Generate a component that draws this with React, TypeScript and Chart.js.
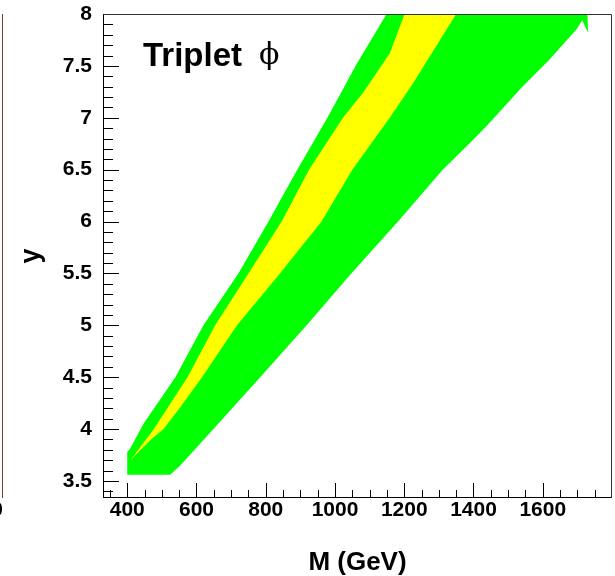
import React, { useEffect, useRef } from "react";
import { Chart, registerables } from "chart.js";

Chart.register(...registerables);

// ---- axis ticks / labels ----
const xMajorTicks = [400, 600, 800, 1000, 1200, 1400, 1600];
const yMajorTicks = [3.5, 4, 4.5, 5, 5.5, 6, 6.5, 7, 7.5, 8];
const yTickLabels = ["3.5", "4", "4.5", "5", "5.5", "6", "6.5", "7", "7.5", "8"];
const xTitle = "M (GeV)";
const yTitle = "y";
const panelLabel = "Triplet";
const panelSymbol = "\u03d5";

// ---- outer (green) allowed region ----
// left / upper boundary, bottom -> top
const greenLeftM = [400, 400, 409, 448, 539, 620, 721, 808, 891, 978, 1063, 1149];
const greenLeftY = [3.56, 3.78, 3.815, 4.056, 4.5, 5.0, 5.5, 6.0, 6.5, 7.0, 7.52, 8.0];
// right / lower boundary, top -> bottom
const greenRightM = [1729, 1731, 1714, 1697, 1619, 1541, 1446, 1397, 1311, 1182, 1047, 918, 784, 649, 553, 524];
const greenRightY = [8.0, 7.82, 7.94, 7.85, 7.56, 7.3, 6.95, 6.78, 6.5, 6.0, 5.5, 5.0, 4.5, 4.0, 3.65, 3.56];

// ---- inner (yellow) region ----
const yellowLeftM = [409, 477, 574, 654, 750, 846, 925, 1023, 1081, 1158, 1201];
const yellowLeftY = [3.7, 4.0, 4.5, 5.0, 5.5, 6.0, 6.5, 7.0, 7.24, 7.62, 8.0];
const yellowRightM = [1350, 1225, 1158, 1050, 961, 841, 717, 616, 553, 505, 467];
const yellowRightY = [8.0, 7.33, 7.0, 6.5, 6.0, 5.5, 5.0, 4.5, 4.21, 4.0, 3.895];

const X_MIN = 330;
const X_MAX = 1800;
const Y_MIN = 3.336;
const Y_MAX = 8;

function polygon(lm: number[], ly: number[], rm: number[], ry: number[]) {
  const pts = lm.map((m, i) => ({ x: m, y: ly[i] }));
  rm.forEach((m, i) => pts.push({ x: m, y: ry[i] }));
  pts.push({ x: lm[0], y: ly[0] });
  return pts;
}

const framePlugin = {
  id: "rootFrame",
  afterDraw(chart: any) {
    const { ctx, chartArea, scales } = chart;
    const { left, right, top, bottom } = chartArea;
    const x = scales.x;
    const y = scales.y;
    ctx.save();
    ctx.lineWidth = 1;
    ctx.strokeStyle = "#000";
    const seg = (x1: number, y1: number, x2: number, y2: number) => {
      ctx.beginPath();
      ctx.moveTo(x1, y1);
      ctx.lineTo(x2, y2);
      ctx.stroke();
    };
    // x ticks (inside, pointing up)
    for (let v = 350; v <= 1750; v += 50) {
      const px = Math.round(x.getPixelForValue(v)) + 0.5;
      const len = v % 200 === 0 ? 15 : 8;
      seg(px, bottom, px, bottom - len);
    }
    // y ticks (inside, pointing right)
    for (let k = 34; k <= 80; k++) {
      const py = Math.round(y.getPixelForValue(k / 10)) + 0.5;
      const len = k % 5 === 0 ? 16 : 10;
      seg(left, py, left + len, py);
    }
    // frame
    const l = Math.round(left) + 0.5;
    const r = Math.round(right) - 0.5;
    const t = Math.round(top) + 0.5;
    const b = Math.round(bottom) - 0.5;
    seg(l, t, l, b + 0.5);
    seg(l - 0.5, b, r + 0.5, b);
    ctx.strokeStyle = "#333";
    seg(l, t, r, t);
    seg(r, t, r, b);

    // panel label
    ctx.fillStyle = "#000";
    ctx.textBaseline = "alphabetic";
    ctx.textAlign = "left";
    ctx.font = "bold 33px 'Liberation Sans', Arial, sans-serif";
    ctx.fillText(panelLabel, left + 40, top + 52);
    ctx.font = "30px 'DejaVu Serif', 'Liberation Serif', serif";
    ctx.fillText(panelSymbol, left + 156, top + 50);

    // remnant of neighbouring panel on the left edge
    ctx.strokeStyle = "#7a3a3a";
    seg(2.5, top, 2.5, bottom);
    ctx.font = "bold 21px 'Liberation Sans', Arial, sans-serif";
    ctx.textAlign = "center";
    ctx.textBaseline = "middle";
    ctx.fillText("0", -3, bottom + 12);
    ctx.restore();
  },
};

export default function App() {
  const canvasRef = useRef<HTMLCanvasElement | null>(null);

  useEffect(() => {
    document.body.style.margin = "0";
    const canvas = canvasRef.current;
    if (!canvas) return;
    const chart = new Chart(canvas, {
      type: "line",
      data: {
        datasets: [
          {
            label: "inner",
            data: polygon(yellowLeftM, yellowLeftY, yellowRightM, yellowRightY),
            backgroundColor: "#ffff00",
            borderWidth: 0,
            borderColor: "rgba(0,0,0,0)",
            pointRadius: 0,
            tension: 0,
            fill: "shape",
          },
          {
            label: "outer",
            data: polygon(greenLeftM, greenLeftY, greenRightM, greenRightY),
            backgroundColor: "#00ff00",
            borderWidth: 0,
            borderColor: "rgba(0,0,0,0)",
            pointRadius: 0,
            tension: 0,
            fill: "shape",
          },
        ],
      },
      options: {
        responsive: false,
        animation: false,
        devicePixelRatio: 1,
        events: [],
        layout: { padding: { top: 14, right: 3, left: 0, bottom: 0 } },
        plugins: {
          legend: { display: false },
          tooltip: { enabled: false },
        },
        scales: {
          x: {
            type: "linear",
            min: X_MIN,
            max: X_MAX,
            afterFit: (s: any) => {
              s.height = 78;
              s.paddingLeft = 0;
              s.paddingRight = 0;
            },
            afterBuildTicks: (s: any) => {
              s.ticks = xMajorTicks.map((v) => ({ value: v }));
            },
            grid: { display: false, drawTicks: false },
            border: { display: false },
            ticks: {
              autoSkip: false,
              maxRotation: 0,
              padding: 2,
              color: "#000",
              font: { family: "'Liberation Sans', Arial, sans-serif", size: 21, weight: "bold", lineHeight: 1 },
              callback: (v: any) => String(v),
            },
            title: {
              display: true,
              text: xTitle,
              color: "#000",
              padding: { top: 0, bottom: 0 },
              font: { family: "'Liberation Sans', Arial, sans-serif", size: 26, weight: "bold", lineHeight: 1 },
            },
          },
          y: {
            type: "linear",
            min: Y_MIN,
            max: Y_MAX,
            afterFit: (s: any) => {
              s.width = 103;
              s.paddingTop = 0;
              s.paddingBottom = 0;
            },
            afterBuildTicks: (s: any) => {
              s.ticks = yMajorTicks.map((v) => ({ value: v }));
            },
            grid: { display: false, drawTicks: false },
            border: { display: false },
            ticks: {
              autoSkip: false,
              padding: 11,
              color: "#000",
              font: { family: "'Liberation Sans', Arial, sans-serif", size: 21, weight: "bold", lineHeight: 1 },
              callback: (v: any) => {
                const i = yMajorTicks.indexOf(Number(v));
                return i >= 0 ? yTickLabels[i] : "";
              },
            },
            title: {
              display: true,
              text: yTitle,
              color: "#000",
              padding: { top: 18, bottom: 0 },
              font: { family: "'Liberation Sans', Arial, sans-serif", size: 27, weight: "bold", lineHeight: 1 },
            },
          },
        },
      },
      plugins: [framePlugin],
    } as any);
    return () => chart.destroy();
  }, []);

  return (
    <div style={{ width: 615, height: 576, position: "relative", background: "#fff" }}>
      <canvas ref={canvasRef} width={615} height={576} style={{ display: "block" }} />
    </div>
  );
}
